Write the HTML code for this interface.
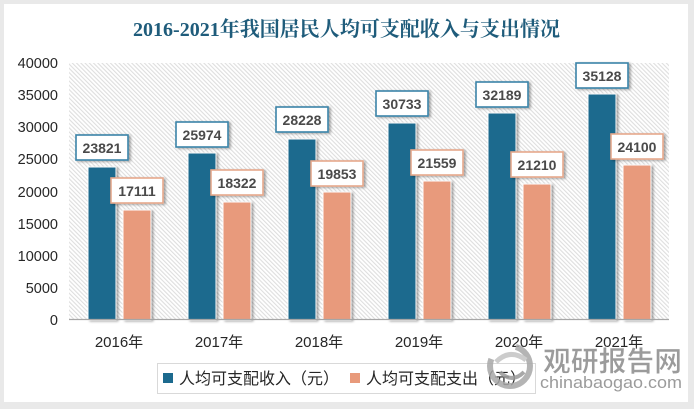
<!DOCTYPE html>
<html><head><meta charset="utf-8">
<style>
html,body{margin:0;padding:0;background:#e9e9e9;}
svg{display:block;}
</style></head>
<body>
<svg width="694" height="409" viewBox="0 0 694 409" xmlns="http://www.w3.org/2000/svg">
<defs>
<pattern id="hatch" width="3" height="3" patternUnits="userSpaceOnUse" patternTransform="rotate(-45)">
<rect x="0" y="0" width="3" height="3" fill="#ffffff"/>
<rect x="0" y="0" width="1.1" height="3" fill="#dedede"/>
</pattern>
<filter id="sh" x="-20%" y="-20%" width="150%" height="150%">
<feGaussianBlur in="SourceAlpha" stdDeviation="1.2"/>
<feOffset dx="2" dy="1" result="o"/>
<feComponentTransfer><feFuncA type="linear" slope="0.35"/></feComponentTransfer>
<feMerge><feMergeNode/><feMergeNode in="SourceGraphic"/></feMerge>
</filter>
</defs>
<rect x="0" y="0" width="694" height="409" fill="#e9e9e9"/>
<rect x="4" y="4" width="684" height="398" fill="#ffffff"/>

<text x="133" y="36" font-family="'Liberation Serif','Noto Serif CJK SC',serif" font-weight="bold" font-size="20.5" fill="#1f5c7b" textLength="427" lengthAdjust="spacingAndGlyphs">2016-2021年我国居民人均可支配收入与支出情况</text>

<rect x="69" y="63" width="600" height="257" fill="url(#hatch)"/>

<g font-family="'Liberation Sans',sans-serif" font-size="14.5" fill="#262626" text-anchor="end">
<text x="58" y="68">40000</text>
<text x="58" y="100">35000</text>
<text x="58" y="132">30000</text>
<text x="58" y="164">25000</text>
<text x="58" y="197">20000</text>
<text x="58" y="229">15000</text>
<text x="58" y="261">10000</text>
<text x="58" y="293">5000</text>
<text x="58" y="325">0</text>
</g>

<g filter="url(#sh)" stroke="#ffffff" stroke-width="1">
<rect x="88" y="167" width="28" height="153" fill="#1c6a8e"/>
<rect x="123" y="210" width="28" height="110" fill="#e89a7b"/>
<rect x="188" y="153" width="28" height="167" fill="#1c6a8e"/>
<rect x="223" y="202" width="28" height="118" fill="#e89a7b"/>
<rect x="288" y="139" width="28" height="181" fill="#1c6a8e"/>
<rect x="323" y="192" width="28" height="128" fill="#e89a7b"/>
<rect x="388" y="123" width="28" height="197" fill="#1c6a8e"/>
<rect x="423" y="181" width="28" height="139" fill="#e89a7b"/>
<rect x="488" y="113" width="28" height="207" fill="#1c6a8e"/>
<rect x="523" y="184" width="28" height="136" fill="#e89a7b"/>
<rect x="588" y="94" width="28" height="226" fill="#1c6a8e"/>
<rect x="623" y="165" width="28" height="155" fill="#e89a7b"/>
</g>

<line x1="69" y1="319.5" x2="669" y2="319.5" stroke="#a6a6a6" stroke-width="1.2"/>

<g filter="url(#sh)" fill="#ffffff" stroke-width="1.6">
<rect x="76" y="135" width="52" height="25" stroke="#3a84a8"/>
<rect x="176" y="122" width="52" height="25" stroke="#3a84a8"/>
<rect x="276" y="107" width="52" height="25" stroke="#3a84a8"/>
<rect x="376" y="91" width="52" height="25" stroke="#3a84a8"/>
<rect x="476" y="82" width="52" height="25" stroke="#3a84a8"/>
<rect x="576" y="63" width="52" height="25" stroke="#3a84a8"/>
<rect x="111" y="178" width="52" height="25" stroke="#e6a88c"/>
<rect x="211" y="170" width="52" height="25" stroke="#e6a88c"/>
<rect x="311" y="161" width="52" height="25" stroke="#e6a88c"/>
<rect x="411" y="150" width="52" height="25" stroke="#e6a88c"/>
<rect x="511" y="152" width="52" height="25" stroke="#e6a88c"/>
<rect x="611" y="134" width="52" height="25" stroke="#e6a88c"/>
</g>
<g font-family="'Liberation Sans',sans-serif" font-weight="bold" font-size="14" fill="#4a4a4a" text-anchor="middle">
<text x="102" y="153">23821</text>
<text x="202" y="140">25974</text>
<text x="302" y="125">28228</text>
<text x="402" y="109">30733</text>
<text x="502" y="100">32189</text>
<text x="602" y="81">35128</text>
<text x="137" y="196">17111</text>
<text x="237" y="188">18322</text>
<text x="337" y="179">19853</text>
<text x="437" y="168">21559</text>
<text x="537" y="170">21210</text>
<text x="637" y="152">24100</text>
</g>

<g font-family="'Liberation Sans','Noto Sans CJK SC',sans-serif" font-size="15" fill="#262626" text-anchor="middle">
<text x="119" y="347">2016年</text>
<text x="219" y="347">2017年</text>
<text x="319" y="347">2018年</text>
<text x="419" y="347">2019年</text>
<text x="519" y="347">2020年</text>
<text x="619" y="347">2021年</text>
</g>

<rect x="157.5" y="363.5" width="378" height="30" fill="#ffffff" stroke="#d9d9d9" stroke-width="1"/>
<rect x="163" y="373" width="10" height="10" fill="#1c6a8e"/>
<rect x="350" y="373" width="10" height="10" fill="#e89a7b"/>
<g font-family="'Liberation Sans','Noto Sans CJK SC',sans-serif" font-size="16" fill="#262626">
<text x="179" y="384">人均可支配收入（元）</text>
<text x="366" y="384">人均可支配支出（元）</text>
</g>

<g opacity="0.85">
<circle cx="510" cy="366" r="20" fill="none" stroke="#a8a8a8" stroke-width="6" stroke-dasharray="70 30"/>
<path d="M496 362 Q510 348 526 360" fill="none" stroke="#c4c4c4" stroke-width="5"/>
<path d="M500 372 Q512 384 524 372" fill="none" stroke="#9a9a9a" stroke-width="4"/>
<text x="543" y="371" font-family="'Noto Sans CJK SC',sans-serif" font-weight="bold" font-size="28" fill="#8a8a8a" stroke="#ffffff" stroke-width="0.6" textLength="139" lengthAdjust="spacingAndGlyphs">观研报告网</text>
<text x="540" y="388" font-family="'Liberation Sans',sans-serif" font-size="17" fill="#8a8a8a" textLength="142" lengthAdjust="spacingAndGlyphs">chinabaogao.com</text>
</g>
</svg>
</body></html>
